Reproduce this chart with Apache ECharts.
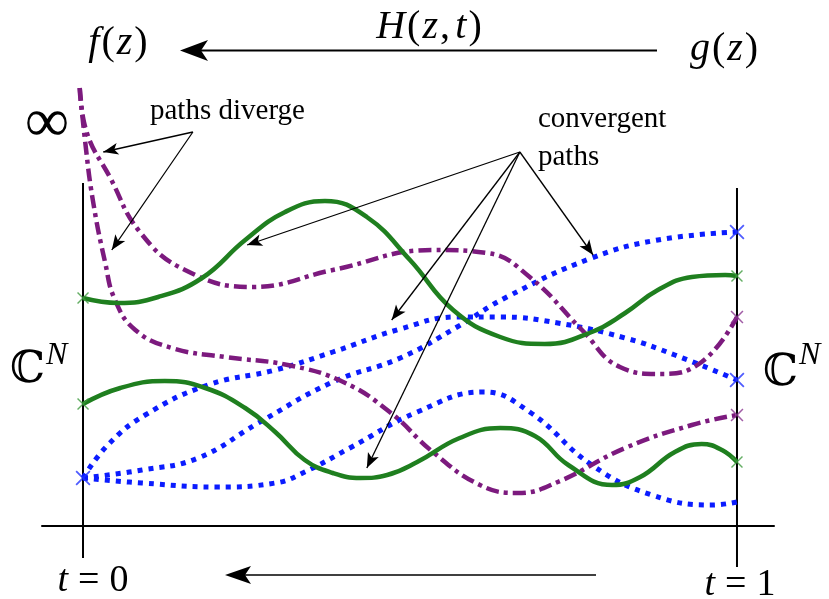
<!DOCTYPE html>
<html><head><meta charset="utf-8">
<script src="https://cdn.jsdelivr.net/npm/echarts@6/dist/echarts.min.js"></script>
<style>html,body{margin:0;padding:0;background:#fff;}#c{width:829px;height:599px;}</style>
</head><body><div id="c"></div>
<script>
// ---- data: t (0..1) vs position in C^N (arbitrary units) ----
const green1 = [[0,225],[0.054,220],[0.115,226],[0.182,245],[0.248,283],[0.309,311],[0.370,322],[0.434,306],[0.500,263],[0.566,213],[0.638,186],[0.706,179],[0.778,191],[0.829,210],[0.879,233],[0.931,246],[0.982,248],[1,247]];
const green2 = [[0,119],[0.057,135],[0.125,142],[0.187,135],[0.248,115],[0.294,91],[0.339,63],[0.382,50],[0.424,45],[0.465,48],[0.511,61],[0.576,85],[0.638,95],[0.691,87],[0.742,58],[0.809,38],[0.852,46],[0.905,71],[0.946,79],[0.977,73],[1,61]];
const purple1 = [[-0.005,435],[0.006,390],[0.041,346],[0.087,291],[0.156,253],[0.258,236],[0.382,253],[0.535,273],[0.618,270],[0.683,246],[0.763,193],[0.821,156],[0.882,149],[0.946,161],[1,206]];
const purple2 = [[-0.005,435],[0.003,383],[0.015,323],[0.034,260],[0.049,223],[0.080,193],[0.136,175],[0.217,166],[0.313,158],[0.398,141],[0.469,111],[0.535,71],[0.607,38],[0.665,30],[0.726,41],[0.829,75],[0.931,98],[1,108]];
const blueA = [[0,45],[0.038,78],[0.095,108],[0.191,138],[0.294,153],[0.382,171],[0.485,194],[0.572,206],[0.638,206],[0.726,200],[0.829,185],[0.905,168],[1,143]];
const blueB = [[0,45],[0.090,53],[0.176,65],[0.268,100],[0.382,141],[0.485,165],[0.572,196],[0.648,226],[0.778,265],[0.879,283],[1,291]];
const blueC = [[0,45],[0.090,40],[0.205,36],[0.294,40],[0.339,51],[0.408,75],[0.511,111],[0.612,131],[0.683,111],[0.778,58],[0.870,28],[0.962,18],[1,21]];

// start / end solution markers taken from the path ends
const greenMarks = [green1[0], green1[green1.length-1], green2[0], green2[green2.length-1]];
const blueMarks = [blueA[0], blueA[blueA.length-1], blueB[blueB.length-1]];
const purpleMarks = [purple1[purple1.length-1], purple2[purple2.length-1]];

// t = 0 and t = 1 fibres
const t0Line = [[0,340],[0,-35]];
const t1Line = [[1,335],[1,-44]];

// annotation arrows (data coordinates)
const divergeFrom = [0.168,391];
const divergeTo = [[0.031,371],[0.044,273]];
const convergeFrom = [0.668,371];
const convergeTo = [[0.251,278],[0.472,203],[0.434,55],[0.780,268]];

const GREEN = '#1f7f1f', BLUE = '#0b1cff', PURPLE = '#7c1a7e';
const xSym = 'path://M1,0L6,5L11,0L12,1L7,6L12,11L11,12L6,7L1,12L0,11L5,6L0,1Z';

function pathSeries(data, color, type, width) {
  return {type:'line', data:data, smooth:0.45, symbol:'none', clip:false, silent:true,
    lineStyle:{color:color, width:width, type:type, cap:'butt', join:'round'}, z:3};
}
function fibre(data) {
  return {type:'line', data:data, symbol:'none', clip:false, silent:true,
    lineStyle:{color:'#000', width:2}, z:2};
}
function arrows(from, tos) {
  return tos.map(t => [{coord:from}, {coord:t}]);
}

const serif = 'Liberation Serif';
function mathText(x, y, text, size, gap) {
  const it = {fontFamily:serif, fontStyle:'italic', fontSize:size, fill:'#000', color:'#000'};
  const up = {fontFamily:serif, fontSize:size, fill:'#000', color:'#000'};
  const sp = {fontFamily:serif, fontSize:size, fill:'#000', color:'#000', padding:[0,gap,0,gap]};
  const ip = {fontFamily:serif, fontStyle:'italic', fontSize:size, fill:'#000', color:'#000', padding:[0,2,0,2]};
  return {type:'text', x:x, y:y, silent:true, style:{text:text,
    rich:{i:it, u:up, s:sp, p:ip},
    align:'center', textAlign:'center', verticalAlign:'middle', textVerticalAlign:'middle', fill:'#000'}};
}
function plainText(x, y, text, size, family, style) {
  return {type:'text', x:x, y:y, silent:true, style:{text:text, fontSize:size, fontFamily:family||serif,
    fontStyle:style||'normal', fill:'#000', align:'left', textAlign:'left', verticalAlign:'middle', textVerticalAlign:'middle'}};
}

const chart = echarts.init(document.getElementById('c'), null, {renderer:'canvas'});
chart.setOption({
  animation:false,
  backgroundColor:'#fff',
  grid:{left:42, right:55, top:80, bottom:73},
  xAxis:{type:'value', min:-0.0627, max:1.0566, axisLabel:{show:false}, axisTick:{show:false}, splitLine:{show:false},
    axisLine:{show:true, onZero:false, lineStyle:{color:'#000', width:2}}},
  yAxis:{type:'value', min:-3, max:443, show:false, splitLine:{show:false}},
  series:[
    fibre(t0Line),
    fibre(t1Line),
    pathSeries(blueA, BLUE, [5,6], 5),
    pathSeries(blueB, BLUE, [5,6], 5),
    pathSeries(blueC, BLUE, [5,6], 5),
    pathSeries(purple1, PURPLE, [13,5,4,5], 4.5),
    pathSeries(purple2, PURPLE, [13,5,4,5], 4.5),
    pathSeries(green1, GREEN, 'solid', 4.5),
    pathSeries(green2, GREEN, 'solid', 4.5),
    {type:'scatter', data:greenMarks, symbol:xSym, symbolSize:12, silent:true, itemStyle:{color:'#3d9a3d'}, z:6},
    {type:'scatter', data:blueMarks, symbol:xSym, symbolSize:15, silent:true, itemStyle:{color:'#2233ff'}, z:6},
    {type:'scatter', data:purpleMarks, symbol:xSym, symbolSize:13, silent:true, itemStyle:{color:'#8a3590'}, z:6},
    {type:'line', data:[], silent:true, z:4,
      markLine:{silent:true, animation:false, symbol:['none','arrow'], symbolSize:[9,15], precision:4,
        label:{show:false}, lineStyle:{color:'#000', width:1.3, type:'solid'},
        data: arrows(divergeFrom, divergeTo).concat(arrows(convergeFrom, convergeTo))}}
  ],
  graphic:[
    {type:'line', silent:true, shape:{x1:200, y1:50.5, x2:657, y2:50.5}, style:{stroke:'#000', lineWidth:2.2}},
    {type:'polygon', silent:true, shape:{points:[[180,50.5],[208,40],[201,50.5],[208,61]]}, style:{fill:'#000'}},
    {type:'line', silent:true, shape:{x1:245, y1:575, x2:596, y2:575}, style:{stroke:'#000', lineWidth:1.6}},
    {type:'polygon', silent:true, shape:{points:[[225,575],[251,566],[245,575],[251,584]]}, style:{fill:'#000'}},
    mathText(117, 43, '{p|f}{u|(}{p|z}{u|)}', 40, 0),
    mathText(428, 27, '{p|H}{u|(}{p|z}{u|,} {p|t}{u|)}', 40, 0),
    mathText(723, 49, '{p|g}{u|(}{p|z}{u|)}', 40, 0),
    mathText(93, 581, '{i|t}{s|=}{u|0}', 38, 10),
    mathText(740, 585, '{i|t}{s|=}{u|1}', 38, 10),
    {type:'text', x:47, y:125, silent:true, style:{text:'\u221E', fontSize:62, fontFamily:serif, fill:'#000',
      align:'center', textAlign:'center', verticalAlign:'middle', textVerticalAlign:'middle'}},
    plainText(150, 111, 'paths diverge', 29),
    plainText(538, 119, 'convergent', 29),
    plainText(538, 157, 'paths', 29),
    plainText(10, 371, '\u2102', 44, 'DejaVu Serif, DejaVu Sans'),
    plainText(46, 356, 'N', 32, serif, 'italic'),
    plainText(763, 374, '\u2102', 44, 'DejaVu Serif, DejaVu Sans'),
    plainText(799, 356, 'N', 32, serif, 'italic')
  ]
});
</script>
</body></html>
